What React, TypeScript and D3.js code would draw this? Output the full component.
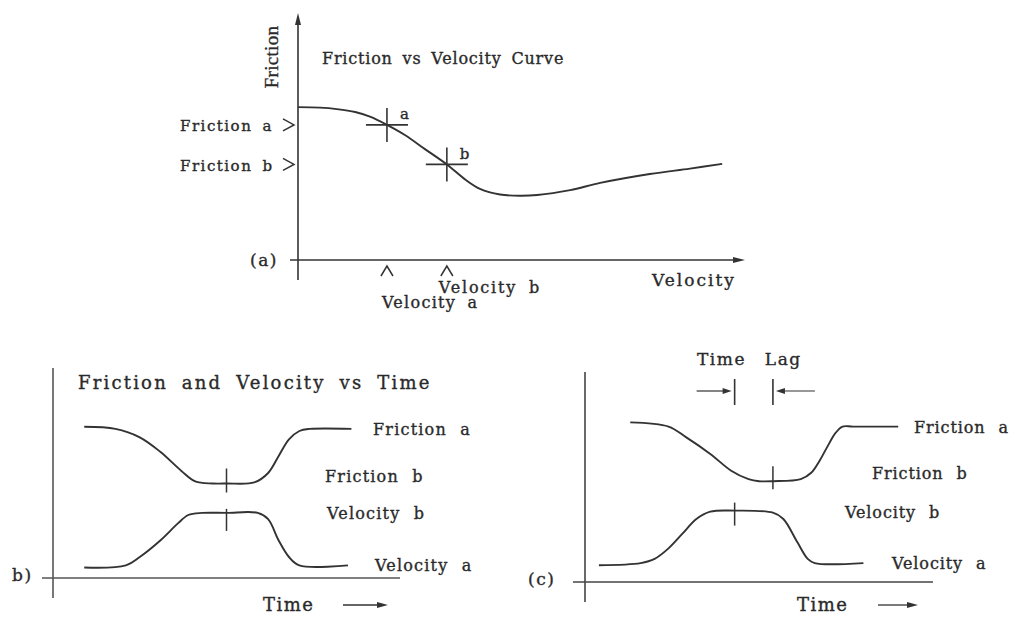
import React from "react";
import * as d3 from "d3";

// ---------- (a) Friction vs velocity curve ----------
const curveVelocity = [0, 0.49, 0.87, 1.28, 1.61, 1.99, 2.39, 2.84, 3.33, 3.74, 4.07, 4.52, 4.97, 5.35, 6.09, 6.76, 7.87, 8.77, 9.49];
const curveFriction = [6.19, 6.17, 6.11, 5.99, 5.8, 5.47, 5.06, 4.49, 3.87, 3.26, 2.88, 2.65, 2.6, 2.63, 2.83, 3.12, 3.48, 3.7, 3.89];

// operating points a and b on the curve
const markNames = ["a", "b"];
const markVelocity = [1.99, 3.33];
const markFriction = [5.47, 3.87];

// ---------- (b) friction and velocity vs time, in phase ----------
const timeFrictionB = [9, 18, 25, 31, 37, 41, 46, 50, 58, 62, 65, 68, 71, 74, 86];
const frictionB = [72, 71, 67, 60, 51, 46, 45, 45, 45.5, 50, 58, 66, 70, 71, 71];
const timeVelocityB = [9, 21, 25, 31, 36, 39, 43, 50, 59, 62, 65, 68, 71, 85];
const velocityB = [5, 6, 10, 18, 26, 30, 31, 31, 31, 28, 18, 10, 6, 6];
const tickFrictionB = 50;
const tickVelocityB = 50;

// ---------- (c) friction lagging velocity ----------
const timeFrictionC = [13, 24, 29, 36, 42, 47, 50, 54, 62, 65, 67.5, 69.5, 72, 74, 77, 90];
const frictionC = [76, 74, 69, 61, 53, 49, 48, 48, 49, 52, 58, 64, 71, 74, 74, 74];
const timeVelocityC = [4, 16, 20, 24, 28, 32, 36, 43, 54, 57, 61, 64, 66, 80];
const velocityC = [8, 9, 11, 16, 23, 30, 33.5, 34, 33, 30, 19, 11, 9, 9];
const tickFrictionC = 54;
const tickVelocityC = 43;

const traceLabels = ["Friction a", "Friction b", "Velocity b", "Velocity a"];

const FONT = "'DejaVu Serif', serif";
const INK = "#2a2a2a";
const LINE = "#333";

type TxtProps = {
  x: number;
  y: number;
  text: string;
  size?: number;
  ls?: number;
  ws?: number;
  anchor?: "start" | "middle" | "end";
  rotate?: number;
  family?: string;
};

function Txt({ x, y, text, size = 16, ls = 1, ws = 5, anchor = "start", rotate, family = FONT }: TxtProps) {
  return (
    <text
      x={x}
      y={y}
      dy="0.35em"
      fontFamily={family}
      fontSize={size}
      letterSpacing={ls}
      wordSpacing={ws}
      textAnchor={anchor}
      fill={INK}
      stroke={INK}
      strokeWidth={0.35}
      transform={rotate ? `rotate(${rotate} ${x} ${y})` : undefined}
    >
      {text}
    </text>
  );
}

const smooth = d3.curveCatmullRom.alpha(0.5);

function valueAt(times: number[], values: number[], t: number) {
  return values[times.indexOf(t)];
}

function PanelA() {
  const x = d3.scaleLinear().domain([0, 10]).range([298, 745]);
  const y = d3.scaleLinear().domain([0, 10]).range([260, 13]);
  const pts = curveVelocity.map((v, i) => [v, curveFriction[i]] as [number, number]);
  const line = d3
    .line<[number, number]>()
    .x((d) => x(d[0]))
    .y((d) => y(d[1]))
    .curve(smooth);
  const x0 = x(0);
  const y0 = y(0);
  return (
    <g>
      {/* axes */}
      <line x1={x0} y1={y0 + 20} x2={x0} y2={y(10) + 8} stroke={LINE} strokeWidth={1.6} />
      <path d={`M${x0},${y(10)} L${x0 - 3},${y(10) + 12} L${x0 + 3},${y(10) + 12} Z`} fill={LINE} />
      <line x1={x0 - 8} y1={y0} x2={x(10) - 8} y2={y0} stroke={LINE} strokeWidth={1.4} />
      <path d={`M${x(10)},${y0} L${x(10) - 12},${y0 - 3} L${x(10) - 12},${y0 + 3} Z`} fill={LINE} />

      {/* friction-velocity curve */}
      <path d={line(pts) ?? ""} fill="none" stroke={LINE} strokeWidth={1.9} />

      {/* operating points */}
      {markNames.map((n, i) => {
        const cx = x(markVelocity[i]);
        const cy = y(markFriction[i]);
        return (
          <g key={n}>
            <line x1={cx} y1={cy - 17} x2={cx} y2={cy + 17} stroke={LINE} strokeWidth={1.6} />
            <line x1={cx - 21} y1={cy} x2={cx + 21} y2={cy} stroke={LINE} strokeWidth={1.6} />
            <Txt x={cx + 13} y={cy - 11} text={n} size={15} ls={0} />
            {/* chevron pointing at the friction level */}
            <path
              d={`M${x0 - 15},${cy - 6} L${x0 - 4},${cy} L${x0 - 15},${cy + 6}`}
              fill="none"
              stroke={LINE}
              strokeWidth={1.5}
            />
            <Txt x={180} y={cy + 1} text={`Friction ${n}`} size={15} ls={1.5} ws={4} />
            {/* caret pointing at the velocity */}
            <path
              d={`M${cx - 6},${y0 + 16} L${cx},${y0 + 6} L${cx + 6},${y0 + 16}`}
              fill="none"
              stroke={LINE}
              strokeWidth={1.5}
            />
          </g>
        );
      })}

      <Txt x={x(markVelocity[1]) - 8} y={y0 + 27} text="Velocity b" size={16} ls={1.8} ws={5} />
      <Txt x={x(markVelocity[0]) - 5} y={y0 + 42} text="Velocity a" size={16} ls={1.3} ws={5} />
      <Txt x={652} y={y0 + 20} text="Velocity" size={17} ls={2} />
      <Txt x={250} y={y0} text="(a)" size={17} ls={1.5} />
      <Txt x={271} y={57} text="Friction" size={19} ls={0.3} anchor="middle" rotate={-90} family="'Liberation Serif', serif" />
      <Txt x={322} y={58} text="Friction vs Velocity Curve" size={16} ls={0.8} ws={4} />
    </g>
  );
}

type TimePanelProps = {
  xRange: [number, number];
  yRange: [number, number];
  tF: number[];
  f: number[];
  tV: number[];
  v: number[];
  tickF: number;
  tickV: number;
  tickFOff: [number, number];
  tickVOff: [number, number];
  axisLeft: number;
  labelPos: [number, number][];
  labelLs: number;
  tag: string;
  tagX: number;
  timeX: number;
  timeDy: number;
  arrowX: [number, number];
  axisColor: string;
  children?: React.ReactNode;
};

function TimePanel(p: TimePanelProps) {
  const x = d3.scaleLinear().domain([0, 100]).range(p.xRange);
  const y = d3.scaleLinear().domain([0, 100]).range(p.yRange);
  const line = d3
    .line<[number, number]>()
    .x((d) => x(d[0]))
    .y((d) => y(d[1]))
    .curve(smooth);
  const fPts = p.tF.map((t, i) => [t, p.f[i]] as [number, number]);
  const vPts = p.tV.map((t, i) => [t, p.v[i]] as [number, number]);
  const x0 = x(0);
  const y0 = y(0);
  const fy = y(valueAt(p.tF, p.f, p.tickF));
  const vy = y(valueAt(p.tV, p.v, p.tickV));
  const ty = y0 + p.timeDy;
  return (
    <g>
      <line x1={x0} y1={y(100)} x2={x0} y2={y0 + 20} stroke={p.axisColor} strokeWidth={1.6} />
      <line x1={p.axisLeft} y1={y0} x2={x(100)} y2={y0} stroke={p.axisColor} strokeWidth={1.3} />

      <path d={line(fPts) ?? ""} fill="none" stroke={LINE} strokeWidth={1.9} />
      <path d={line(vPts) ?? ""} fill="none" stroke={LINE} strokeWidth={1.9} />

      <line x1={x(p.tickF)} y1={fy + p.tickFOff[0]} x2={x(p.tickF)} y2={fy + p.tickFOff[1]} stroke={LINE} strokeWidth={1.5} />
      <line x1={x(p.tickV)} y1={vy + p.tickVOff[0]} x2={x(p.tickV)} y2={vy + p.tickVOff[1]} stroke={LINE} strokeWidth={1.5} />

      {traceLabels.map((t, i) => (
        <Txt key={t} x={p.labelPos[i][0]} y={p.labelPos[i][1]} text={t} size={16} ls={p.labelLs} ws={7} />
      ))}

      <Txt x={p.tagX} y={y0 - 3} text={p.tag} size={17} ls={1.5} />
      <Txt x={p.timeX} y={ty} text="Time" size={18} ls={1.5} />
      <line x1={p.arrowX[0]} y1={ty} x2={p.arrowX[1] - 8} y2={ty} stroke={LINE} strokeWidth={1.3} />
      <path d={`M${p.arrowX[1]},${ty} L${p.arrowX[1] - 11},${ty - 3} L${p.arrowX[1] - 11},${ty + 3} Z`} fill={LINE} />
      {p.children}
    </g>
  );
}

function TimeLag() {
  const x = d3.scaleLinear().domain([0, 100]).range([585, 933]);
  const l = x(tickVelocityC);
  const r = x(tickFrictionC);
  const ay = 391;
  return (
    <g>
      <Txt x={697} y={359} text="Time Lag" size={17} ls={1.5} ws={12} />
      <line x1={l} y1={379} x2={l} y2={405} stroke={LINE} strokeWidth={1.6} />
      <line x1={r} y1={379} x2={r} y2={405} stroke={LINE} strokeWidth={1.6} />
      <line x1={l - 38} y1={ay} x2={l - 10} y2={ay} stroke={LINE} strokeWidth={1.2} />
      <path d={`M${l - 3},${ay} L${l - 12},${ay - 3} L${l - 12},${ay + 3} Z`} fill={LINE} />
      <line x1={r + 10} y1={ay} x2={r + 42} y2={ay} stroke={LINE} strokeWidth={1.2} />
      <path d={`M${r + 3},${ay} L${r + 12},${ay - 3} L${r + 12},${ay + 3} Z`} fill={LINE} />
    </g>
  );
}

export default function App() {
  return (
    <svg
      width={1014}
      height={617}
      viewBox="0 0 1014 617"
      style={{ position: "absolute", left: 0, top: 0, background: "#fff" }}
    >
      <rect width={1014} height={617} fill="#fff" />
      <PanelA />

      <TimePanel
        xRange={[53, 400]}
        yRange={[578, 368]}
        tF={timeFrictionB}
        f={frictionB}
        tV={timeVelocityB}
        v={velocityB}
        tickF={tickFrictionB}
        tickV={tickVelocityB}
        tickFOff={[-15, 9]}
        tickVOff={[-4, 18]}
        axisLeft={42}
        labelPos={[
          [373, 429],
          [325, 476],
          [327, 513],
          [375, 565],
        ]}
        labelLs={1.2}
        tag="b)"
        tagX={12}
        timeX={263}
        timeDy={27}
        arrowX={[343, 388]}
        axisColor="#555"
      >
        <Txt x={78} y={383} text="Friction and Velocity vs Time" size={18} ls={2.2} ws={6} />
      </TimePanel>

      <TimePanel
        xRange={[585, 933]}
        yRange={[582, 372]}
        tF={timeFrictionC}
        f={frictionC}
        tV={timeVelocityC}
        v={velocityC}
        tickF={tickFrictionC}
        tickV={tickVelocityC}
        tickFOff={[-15, 8]}
        tickVOff={[-8, 15]}
        axisLeft={573}
        labelPos={[
          [914, 427],
          [872, 473],
          [845, 512],
          [892, 563],
        ]}
        labelLs={0.9}
        tag="(c)"
        tagX={528}
        timeX={797}
        timeDy={23}
        arrowX={[878, 918]}
        axisColor="#444"
      >
        <TimeLag />
      </TimePanel>
    </svg>
  );
}
